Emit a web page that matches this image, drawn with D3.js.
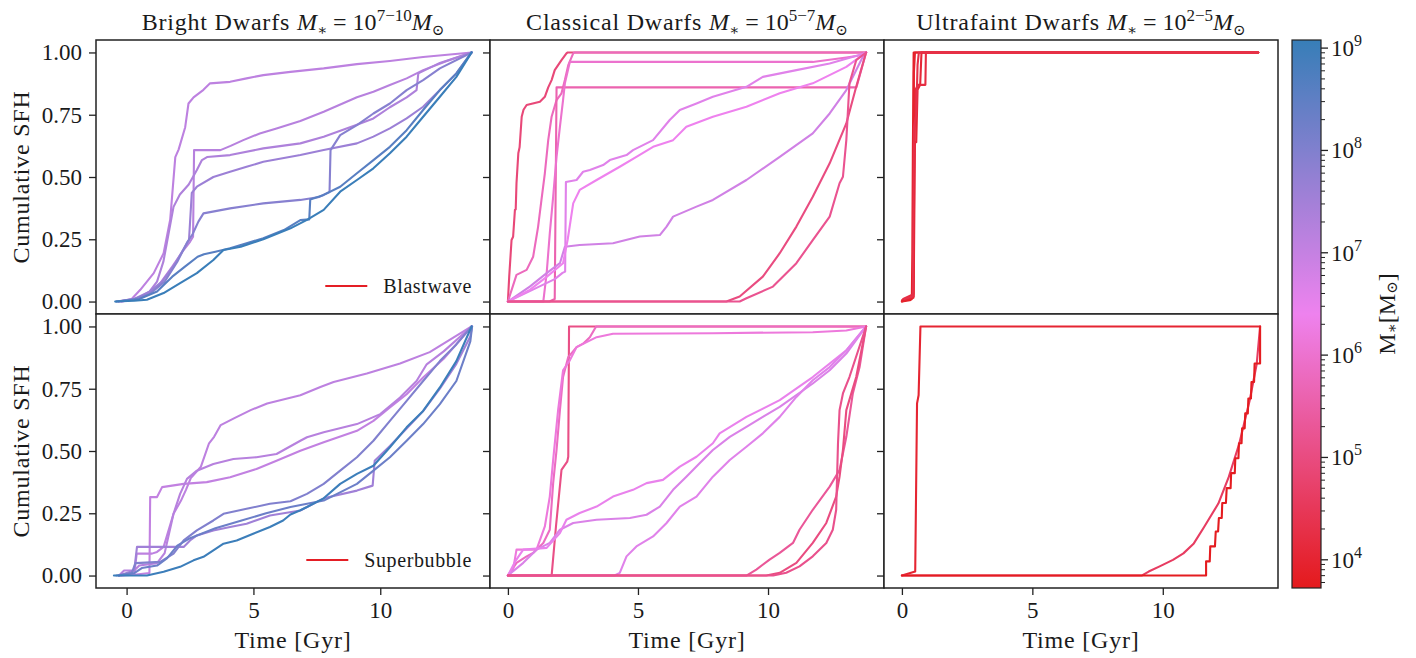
<!DOCTYPE html>
<html><head><meta charset="utf-8">
<script src="https://cdn.jsdelivr.net/npm/d3@7"></script>
<style>
body{margin:0;background:#fff;}
svg text{font-family:'Liberation Serif','DejaVu Serif',serif !important;fill:#1a1a1a;white-space:pre;}
</style></head><body>
<svg id="chart" width="1416" height="658"></svg>
<script>
// ---------------- data ----------------
const columnTitles = ["Bright Dwarfs", "Classical Dwarfs", "Ultrafaint Dwarfs"];
const columnExponents = ["7\u221210", "5\u22127", "2\u22125"];
const rowLegends = ["Blastwave", "Superbubble"];
const yAxisLabel = "Cumulative SFH";
const xAxisLabel = "Time [Gyr]";
const yTickValues = [0, 0.25, 0.5, 0.75, 1.0];
const xTickValues = [0, 5, 10];
const massTickValues = [1e4, 1e5, 1e6, 1e7, 1e8, 1e9];
const massRange = [5.3e3, 1.2e9];
const cmapColors = ["#e41a1c", "#ee82ee", "#377eb8"];

// Bright dwarfs, blastwave (stellar mass of each track, then tracks [Gyr, cumulative fraction])
const brightBlastwaveMass = [1.3e7, 1.6e7, 2.2e7, 4e7, 8e7, 4e8, 1.1e9];
const brightBlastwaveTracks = [
 [[-0.31,0],[0.2,0.01],[0.54,0.047],[1.07,0.114],[1.46,0.194],[1.72,0.33],[1.92,0.58],[2.05,0.61],[2.31,0.7],[2.44,0.795],[2.64,0.82],[2.9,0.84],[3.03,0.85],[3.29,0.876],[4.08,0.882],[4.73,0.896],[5.39,0.909],[6.46,0.922],[7.77,0.936],[9.08,0.953],[10.38,0.966],[11.69,0.982],[13.6,1.0]],
 [[-0.2,0],[0.3,0.008],[0.8,0.03],[1.3,0.07],[1.8,0.14],[2.2,0.2],[2.5,0.24],[2.62,0.26],[2.66,0.608],[3.7,0.608],[4.1,0.625],[4.6,0.648],[5.25,0.675],[5.91,0.695],[6.85,0.725],[7.77,0.762],[9.08,0.82],[9.73,0.842],[10.38,0.869],[11.04,0.896],[11.69,0.929],[12.6,0.965],[13.6,1.0]],
 [[-0.2,0],[0.4,0.01],[0.9,0.04],[1.2,0.08],[1.45,0.16],[1.65,0.27],[1.85,0.38],[2.1,0.43],[2.45,0.47],[2.77,0.528],[2.97,0.568],[3.17,0.58],[4.08,0.588],[5.39,0.615],[6.85,0.635],[7.77,0.662],[9.08,0.71],[9.73,0.735],[10.38,0.78],[11.04,0.82],[11.43,0.849],[11.5,0.916],[12.35,0.958],[13.6,1.0]],
 [[-0.3,0],[0.3,0.01],[0.9,0.04],[1.4,0.08],[1.9,0.15],[2.3,0.22],[2.46,0.247],[2.57,0.436],[2.77,0.461],[3.42,0.5],[4.08,0.521],[4.73,0.541],[5.39,0.561],[6.85,0.588],[7.77,0.608],[9.08,0.635],[9.73,0.662],[10.38,0.695],[11.04,0.735],[11.69,0.782],[12.35,0.849],[13.0,0.916],[13.6,1.0]],
 [[-0.4,0],[0.3,0.01],[0.9,0.03],[1.5,0.08],[2.0,0.16],[2.4,0.24],[2.6,0.27],[2.83,0.321],[3.03,0.354],[4.08,0.374],[5.39,0.394],[6.85,0.408],[7.6,0.42],[8.0,0.44],[8.04,0.608],[8.42,0.668],[9.08,0.708],[9.73,0.755],[10.38,0.795],[11.04,0.849],[11.69,0.889],[12.35,0.936],[13.6,1.0]],
 [[-0.4,0],[0.5,0.01],[1.2,0.04],[1.8,0.1],[2.3,0.14],[2.8,0.18],[3.05,0.19],[3.5,0.2],[4.08,0.214],[4.73,0.234],[5.39,0.254],[6.2,0.287],[6.85,0.327],[7.2,0.33],[7.24,0.41],[7.77,0.428],[8.42,0.461],[9.08,0.515],[9.73,0.568],[10.38,0.621],[11.04,0.688],[11.69,0.769],[12.35,0.849],[13.0,0.916],[13.6,1.0]],
 [[-0.45,0],[0.3,0.003],[0.8,0.007],[1.46,0.034],[2.11,0.074],[2.77,0.114],[3.42,0.167],[3.82,0.207],[4.5,0.22],[5.39,0.25],[6.46,0.294],[7.11,0.328],[7.77,0.368],[8.42,0.441],[9.08,0.488],[9.73,0.535],[10.38,0.595],[11.04,0.662],[11.69,0.742],[12.35,0.822],[13.0,0.902],[13.6,1.0]]
];

// Bright dwarfs, superbubble
const brightSuperbubbleMass = [1.3e7, 1.1e7, 1.6e7, 3.5e7, 1e8, 2e8, 1e9];
const brightSuperbubbleTracks = [
 [[-0.3,0],[0.3,0.005],[0.4,0.088],[1.0,0.088],[1.2,0.095],[1.46,0.115],[1.85,0.248],[2.14,0.3],[2.34,0.344],[2.53,0.391],[2.93,0.437],[3.25,0.531],[3.45,0.557],[3.71,0.604],[4.23,0.631],[4.89,0.664],[5.54,0.691],[6.85,0.724],[7.64,0.757],[8.16,0.777],[9.47,0.811],[10.78,0.851],[11.95,0.897],[13.6,1.0]],
 [[-0.2,0],[0.3,0.003],[0.9,0.01],[0.93,0.315],[1.2,0.315],[1.4,0.355],[2.25,0.368],[3.16,0.375],[4.08,0.395],[5.12,0.428],[5.91,0.461],[6.85,0.501],[7.77,0.535],[9.08,0.581],[9.73,0.621],[10.38,0.675],[11.04,0.728],[11.69,0.795],[12.5,0.87],[13.6,1.0]],
 [[-0.3,0],[-0.1,0.02],[0.3,0.02],[0.5,0.04],[1.2,0.05],[1.5,0.09],[1.85,0.248],[2.11,0.328],[2.38,0.388],[2.77,0.421],[3.42,0.448],[4.21,0.468],[5.12,0.475],[5.91,0.488],[6.85,0.541],[7.11,0.555],[7.77,0.575],[9.08,0.608],[10.0,0.648],[10.78,0.715],[11.43,0.781],[11.83,0.848],[12.5,0.9],[13.6,1.0]],
 [[-0.3,0],[0.3,0.02],[0.41,0.115],[2.25,0.115],[2.5,0.141],[2.77,0.161],[3.42,0.181],[4.08,0.195],[4.73,0.208],[5.65,0.241],[6.85,0.261],[7.77,0.31],[9.08,0.341],[9.7,0.361],[9.78,0.461],[10.38,0.52],[11.04,0.59],[11.69,0.66],[12.35,0.75],[13.0,0.85],[13.55,0.96],[13.62,1.0]],
 [[-0.4,0],[0.2,0.01],[0.35,0.05],[1.33,0.055],[1.85,0.088],[2.25,0.141],[2.77,0.181],[3.42,0.221],[3.82,0.248],[4.73,0.268],[5.65,0.288],[6.46,0.298],[7.11,0.328],[7.77,0.368],[8.42,0.421],[9.08,0.475],[9.73,0.541],[10.38,0.621],[11.04,0.701],[11.69,0.781],[12.35,0.861],[13.0,0.928],[13.6,1.0]],
 [[-0.3,0],[0.3,0.01],[0.6,0.03],[1.2,0.04],[1.6,0.07],[2.0,0.12],[2.5,0.15],[3.0,0.17],[3.5,0.19],[4.5,0.22],[5.5,0.25],[6.46,0.275],[7.77,0.301],[9.08,0.368],[9.73,0.421],[10.38,0.475],[11.04,0.541],[11.69,0.608],[12.35,0.688],[13.0,0.781],[13.55,0.94],[13.62,1.0]],
 [[-0.5,0],[0.8,0.0],[1.46,0.015],[2.11,0.035],[2.64,0.061],[3.03,0.075],[3.42,0.101],[3.82,0.128],[4.34,0.141],[4.99,0.168],[5.65,0.195],[6.17,0.221],[6.46,0.245],[6.85,0.262],[7.11,0.275],[7.77,0.31],[8.42,0.368],[9.08,0.408],[9.73,0.441],[10.38,0.515],[11.04,0.595],[11.69,0.661],[12.35,0.755],[13.0,0.861],[13.6,1.0]]
];

// Classical dwarfs, blastwave
const classicalBlastwaveMass = [8e4, 6e5, 4e5, 1e6, 7e6, 4e6, 2.5e6, 1e5, 1.6e5];
const classicalBlastwaveTracks = [
 [[0,0],[0.05,0.1],[0.14,0.247],[0.2,0.26],[0.27,0.368],[0.3,0.37],[0.33,0.475],[0.4,0.595],[0.45,0.62],[0.53,0.742],[0.6,0.77],[0.72,0.789],[1.23,0.802],[1.42,0.822],[1.55,0.86],[1.68,0.889],[1.8,0.929],[2.06,0.969],[2.25,0.996],[2.3,1.0],[13.77,1.0]],
 [[0,0],[0.33,0.107],[0.72,0.127],[0.97,0.18],[1.16,0.3],[1.29,0.408],[1.42,0.515],[1.55,0.648],[1.68,0.742],[1.87,0.809],[2.06,0.836],[2.19,0.889],[2.32,0.949],[2.51,0.996],[2.55,1.0],[13.77,1.0]],
 [[0,0],[1.6,0.0],[1.8,0.01],[1.87,0.86],[13.4,0.86],[13.77,1.0]],
 [[0,0],[1.36,0.0],[1.49,0.114],[1.61,0.274],[1.74,0.421],[1.87,0.581],[2.0,0.702],[2.12,0.809],[2.19,0.876],[2.38,0.962],[11.72,0.962],[13.01,0.98],[13.64,0.99],[13.77,1.0]],
 [[0,0],[0.84,0.06],[1.49,0.114],[2.0,0.154],[2.19,0.22],[2.76,0.227],[4.04,0.234],[5.07,0.261],[5.84,0.267],[6.1,0.301],[6.35,0.341],[7.25,0.381],[7.88,0.408],[9.17,0.488],[10.45,0.581],[11.72,0.675],[12.37,0.755],[13.01,0.849],[13.64,0.982],[13.77,1.0]],
 [[0,0],[0.8,0.04],[1.4,0.07],[1.8,0.09],[2.1,0.115],[2.2,0.12],[2.23,0.48],[2.64,0.488],[2.89,0.521],[3.15,0.528],[3.66,0.548],[3.92,0.568],[4.56,0.588],[4.81,0.608],[5.58,0.648],[6.22,0.729],[6.61,0.769],[7.25,0.795],[7.88,0.822],[9.17,0.862],[9.8,0.902],[11.09,0.929],[12.37,0.956],[13.64,0.994],[13.77,1.0]],
 [[0,0],[0.84,0.047],[1.5,0.1],[2.12,0.154],[2.3,0.25],[2.51,0.394],[2.76,0.448],[3.41,0.488],[4.3,0.541],[4.94,0.581],[5.58,0.621],[6.35,0.648],[6.86,0.702],[7.88,0.742],[9.17,0.782],[10.45,0.836],[11.72,0.876],[13.01,0.942],[13.77,1.0]],
 [[0,0],[8.4,0],[8.91,0.02],[9.8,0.1],[10.45,0.194],[11.09,0.301],[11.72,0.421],[12.37,0.555],[13.01,0.715],[13.39,0.862],[13.77,1.0]],
 [[0,0],[8.91,0],[9.17,0.013],[10.19,0.06],[11.09,0.154],[11.72,0.247],[12.37,0.341],[12.75,0.475],[12.88,0.501],[13.01,0.648],[13.13,0.876],[13.39,0.969],[13.77,1.0]]
];

// Classical dwarfs, superbubble
const classicalSuperbubbleMass = [1.2e5, 7e5, 1.5e6, 5e6, 3e6, 4e6, 2e5, 1e5, 1.4e5];
const classicalSuperbubbleTracks = [
 [[0,0],[1.68,0],[1.85,0.2],[2.06,0.424],[2.28,0.457],[2.32,0.477],[2.35,1.0],[13.77,1.0]],
 [[0,0],[0.33,0.051],[0.72,0.077],[0.97,0.091],[1.36,0.131],[1.61,0.184],[1.74,0.371],[1.87,0.504],[2.0,0.664],[2.12,0.797],[2.32,0.877],[2.64,0.917],[2.89,0.931],[3.15,0.957],[3.34,0.991],[3.4,1.0],[13.77,1.0]],
 [[0,0],[0.2,0.024],[0.33,0.104],[1.1,0.104],[1.42,0.197],[1.61,0.317],[1.74,0.464],[1.93,0.664],[2.12,0.824],[2.38,0.864],[2.64,0.917],[3.41,0.957],[4.04,0.971],[7.88,0.973],[11.72,0.977],[13.01,0.984],[13.77,1.0]],
 [[0,0],[0.59,0.051],[1.1,0.104],[1.61,0.131],[2.0,0.184],[2.51,0.211],[3.41,0.224],[4.69,0.231],[5.33,0.244],[5.84,0.277],[6.35,0.344],[6.86,0.397],[7.37,0.451],[7.88,0.504],[8.53,0.557],[9.17,0.597],[9.8,0.637],[10.45,0.677],[11.72,0.771],[12.37,0.824],[13.01,0.891],[13.77,1.0]],
 [[0,0],[0.3,0.06],[0.59,0.104],[1.49,0.111],[2.0,0.171],[2.25,0.224],[2.76,0.251],[3.41,0.277],[4.04,0.317],[4.81,0.344],[5.33,0.371],[5.96,0.384],[6.61,0.437],[7.25,0.477],[7.88,0.531],[8.14,0.571],[9.17,0.637],[10.45,0.704],[11.72,0.797],[13.01,0.904],[13.77,1.0]],
 [[0,0],[4.1,0],[4.3,0.011],[4.56,0.077],[4.94,0.117],[5.58,0.157],[6.1,0.211],[6.61,0.277],[7.25,0.317],[7.88,0.397],[8.53,0.464],[9.17,0.517],[9.8,0.571],[10.45,0.637],[11.09,0.717],[11.72,0.784],[12.37,0.837],[13.01,0.904],[13.77,1.0]],
 [[0,0],[9.17,0],[9.55,0.024],[10.06,0.064],[10.45,0.091],[10.96,0.131],[11.21,0.184],[11.72,0.264],[12.37,0.357],[12.75,0.424],[13.01,0.557],[13.26,0.731],[13.52,0.837],[13.77,1.0]],
 [[0,0],[9.93,0],[10.45,0.011],[11.09,0.051],[11.72,0.131],[12.24,0.211],[12.62,0.317],[12.75,0.397],[12.88,0.504],[13.01,0.664],[13.39,0.797],[13.77,1.0]],
 [[0,0],[10.2,0],[10.7,0.011],[11.21,0.037],[11.72,0.077],[12.24,0.131],[12.49,0.184],[12.62,0.264],[12.69,0.531],[12.75,0.664],[12.88,0.731],[13.13,0.797],[13.77,1.0]]
];

// Ultrafaint dwarfs, blastwave
const ultrafaintBlastwaveMass = [7e3, 1.2e4, 1.6e4, 9e3, 2e4];
const ultrafaintBlastwaveTracks = [
 [[0,0],[0.3,0.005],[0.38,0.01],[0.4,0.2],[0.42,0.6],[0.45,1.0],[13.66,1.0]],
 [[0,0.005],[0.4,0.015],[0.45,0.02],[0.5,0.64],[0.55,0.64],[0.6,0.85],[0.7,0.87],[0.75,1.0],[13.66,1.0]],
 [[0.05,0.01],[0.44,0.03],[0.47,0.5],[0.52,0.85],[0.62,0.87],[0.9,0.87],[0.92,1.0],[13.66,1.0]],
 [[0,0],[0.44,0.015],[0.46,0.92],[0.5,1.0],[13.66,1.0]],
 [[0.1,0.01],[0.42,0.02],[0.46,0.7],[0.55,0.75],[0.6,0.95],[0.65,1.0],[13.66,1.0]]
];

// Ultrafaint dwarfs, superbubble
const ultrafaintSuperbubbleMass = [1e4, 4e4, 6e3];
const ultrafaintSuperbubbleTracks = [
 [[0,0],[0.51,0.016],[0.58,0.691],[0.64,0.724],[0.71,1.0],[13.73,1.0]],
 [[0,0],[9.19,0],[9.46,0.016],[9.86,0.036],[10.39,0.063],[10.79,0.089],[11.19,0.129],[11.59,0.196],[12.13,0.289],[12.53,0.396],[12.93,0.529],[13.33,0.703],[13.6,0.849],[13.73,1.0]],
 [[0,0],[11.66,0],[11.66,0.057],[11.8,0.057],[11.82,0.117],[12.0,0.117],[12.03,0.177],[12.12,0.177],[12.15,0.231],[12.26,0.231],[12.28,0.291],[12.42,0.291],[12.45,0.351],[12.6,0.351],[12.62,0.411],[12.76,0.411],[12.78,0.471],[12.9,0.471],[12.92,0.531],[13.02,0.531],[13.04,0.591],[13.14,0.591],[13.16,0.651],[13.26,0.651],[13.28,0.711],[13.38,0.711],[13.4,0.777],[13.5,0.777],[13.52,0.851],[13.73,0.851],[13.73,1.0]]
];

// ---------------- drawing ----------------
const panelDefs = [
  [brightBlastwaveMass, brightBlastwaveTracks],
  [classicalBlastwaveMass, classicalBlastwaveTracks],
  [ultrafaintBlastwaveMass, ultrafaintBlastwaveTracks],
  [brightSuperbubbleMass, brightSuperbubbleTracks],
  [classicalSuperbubbleMass, classicalSuperbubbleTracks],
  [ultrafaintSuperbubbleMass, ultrafaintSuperbubbleTracks]
];

const svg = d3.select('#chart');
const FONT = "'Liberation Serif','DejaVu Serif',serif";
const colX = [96, 490, 884], colW = 394;
const rowY = [40, 314], rowH = 274;
const INK = '#222';

const cmap = d3.scaleLinear().domain([0, 0.5, 1]).range(cmapColors).interpolate(d3.interpolateRgb);
const massNorm = d3.scaleLog().domain(massRange).range([0, 1]).clamp(true);
const colorOf = m => cmap(massNorm(m));

const xScales = [0, 1, 2].map(c => {
  const pts = [panelDefs[c][1], panelDefs[3 + c][1]].flat(2);
  const ext = d3.extent(pts, p => p[0]);
  const pad = (ext[1] - ext[0]) * 0.05;
  return d3.scaleLinear().domain([ext[0] - pad, ext[1] + pad]).range([colX[c], colX[c] + colW]);
});
const yScales = [0, 1].map(r => d3.scaleLinear().domain([-0.05, 1.05]).range([rowY[r] + rowH, rowY[r]]));

const defs = svg.append('defs');

function styleAxis(g) {
  g.select('.domain').remove();
  g.attr('font-family', FONT).attr('font-size', 23).attr('color', INK);
  g.selectAll('.tick line').attr('stroke-width', 1.3);
  g.selectAll('.tick text').attr('fill', '#1a1a1a').style('font-family', FONT);
}

for (let r = 0; r < 2; r++) {
  for (let c = 0; c < 3; c++) {
    const [masses, tracks] = panelDefs[r * 3 + c];
    const x = xScales[c], y = yScales[r];
    const g = svg.append('g');
    const id = `clip-${r}-${c}`;
    defs.append('clipPath').attr('id', id).append('rect')
      .attr('x', colX[c]).attr('y', rowY[r]).attr('width', colW).attr('height', rowH);
    g.append('rect').attr('x', colX[c]).attr('y', rowY[r]).attr('width', colW).attr('height', rowH).attr('fill', '#fff');
    const line = d3.line().x(d => x(d[0])).y(d => y(d[1]));
    const lg = g.append('g').attr('clip-path', `url(#${id})`);
    tracks.forEach((t, i) => {
      lg.append('path').attr('d', line(t)).attr('fill', 'none')
        .attr('stroke', colorOf(masses[i])).attr('stroke-width', 2.1)
        .attr('stroke-linejoin', 'round').attr('stroke-linecap', 'round');
    });
    g.append('rect').attr('x', colX[c]).attr('y', rowY[r]).attr('width', colW).attr('height', rowH)
      .attr('fill', 'none').attr('stroke', INK).attr('stroke-width', 1.5);

    const ya = g.append('g').attr('transform', `translate(${colX[c]},0)`)
      .call(d3.axisLeft(y).tickValues(yTickValues).tickSize(7).tickPadding(7)
        .tickFormat(c === 0 ? d3.format('.2f') : () => ''));
    styleAxis(ya);

    if (r === 1) {
      const xa = g.append('g').attr('transform', `translate(0,${rowY[r] + rowH})`)
        .call(d3.axisBottom(x).tickValues(xTickValues).tickSize(7).tickPadding(7).tickFormat(d3.format('d')));
      styleAxis(xa);
      g.append('text').attr('x', colX[c] + colW / 2).attr('y', 648).attr('text-anchor', 'middle')
        .attr('font-size', 24).attr('letter-spacing', 0.8).text(xAxisLabel);
    }

    if (c === 0) {
      const cy = rowY[r] + rowH / 2;
      g.append('text').attr('transform', `translate(21,${cy}) rotate(-90)`).attr('text-anchor', 'middle')
        .attr('dominant-baseline', 'central').attr('font-size', 24).attr('letter-spacing', 0.8).text(yAxisLabel);
      const ly = rowY[r] + rowH - 28;
      const lt = g.append('text').attr('x', colX[c] + colW - 18).attr('y', ly).attr('text-anchor', 'end')
        .attr('dominant-baseline', 'central').attr('font-size', 20).attr('letter-spacing', 0.6).text(rowLegends[r]);
      const tw = lt.node().getComputedTextLength();
      const lx1 = colX[c] + colW - 18 - tw - 16;
      g.append('line').attr('x1', lx1 - 42).attr('x2', lx1).attr('y1', ly).attr('y2', ly)
        .attr('stroke', colorOf(massRange[0] * 1.3)).attr('stroke-width', 2.2);
    }

    if (r === 0) {
      const t = g.append('text').attr('x', colX[c] + colW / 2).attr('y', 30).attr('text-anchor', 'middle')
        .attr('font-size', 24);
      t.append('tspan').attr('letter-spacing', 0.8).text(columnTitles[c] + ' ');
      t.append('tspan').attr('font-style', 'italic').text('M');
      t.append('tspan').attr('font-size', 15).attr('dy', 5).text('\u2217');
      t.append('tspan').attr('dy', -5).text(' = 10');
      t.append('tspan').attr('font-size', 17).attr('dy', -9).text(columnExponents[c]);
      t.append('tspan').attr('dy', 9).attr('font-style', 'italic').text('M');
      t.append('tspan').attr('font-size', 15).attr('dy', 5).text('\u2299');
    }
  }
}

// ---------------- colorbar ----------------
const cbX = 1292, cbW = 29, cbTop = 40, cbBot = 588;
const grad = defs.append('linearGradient').attr('id', 'cbgrad').attr('x1', 0).attr('y1', 1).attr('x2', 0).attr('y2', 0);
d3.range(0, 1.0001, 0.05).forEach(t => grad.append('stop').attr('offset', t).attr('stop-color', cmap(t)));
svg.append('rect').attr('x', cbX).attr('y', cbTop).attr('width', cbW).attr('height', cbBot - cbTop)
  .attr('fill', 'url(#cbgrad)').attr('stroke', INK).attr('stroke-width', 1.2);
const cbScale = d3.scaleLog().domain(massRange).range([cbBot, cbTop]);
const minorVals = [];
for (let k = 3; k <= 9; k++) for (let m = 2; m <= 9; m++) {
  const v = m * Math.pow(10, k);
  if (v >= massRange[0] && v <= massRange[1]) minorVals.push(v);
}
const cbg = svg.append('g');
cbg.selectAll('line.minor').data(minorVals).join('line').attr('class', 'minor')
  .attr('x1', cbX + cbW).attr('x2', cbX + cbW + 4).attr('y1', d => cbScale(d)).attr('y2', d => cbScale(d))
  .attr('stroke', INK).attr('stroke-width', 1);
cbg.selectAll('line.major').data(massTickValues).join('line').attr('class', 'major')
  .attr('x1', cbX + cbW).attr('x2', cbX + cbW + 7).attr('y1', d => cbScale(d)).attr('y2', d => cbScale(d))
  .attr('stroke', INK).attr('stroke-width', 1.3);
cbg.selectAll('text.lab').data(massTickValues).join('text').attr('class', 'lab')
  .attr('x', cbX + cbW + 10).attr('y', d => cbScale(d) + 8).attr('font-size', 23)
  .each(function (d) {
    const t = d3.select(this);
    t.append('tspan').text('10');
    t.append('tspan').attr('font-size', 16).attr('dy', -10).text(String(Math.round(Math.log10(d))));
  });
const cl = svg.append('text').attr('transform', `translate(1387,${(cbTop + cbBot) / 2}) rotate(-90)`)
  .attr('text-anchor', 'middle').attr('dominant-baseline', 'central').attr('font-size', 24);
cl.append('tspan').text('M');
cl.append('tspan').attr('font-size', 15).attr('dy', 5).text('\u2217');
cl.append('tspan').attr('dy', -5).text('[M');
cl.append('tspan').attr('font-size', 15).attr('dy', 5).text('\u2299');
cl.append('tspan').attr('dy', -5).text(']');
</script>
</body></html>
